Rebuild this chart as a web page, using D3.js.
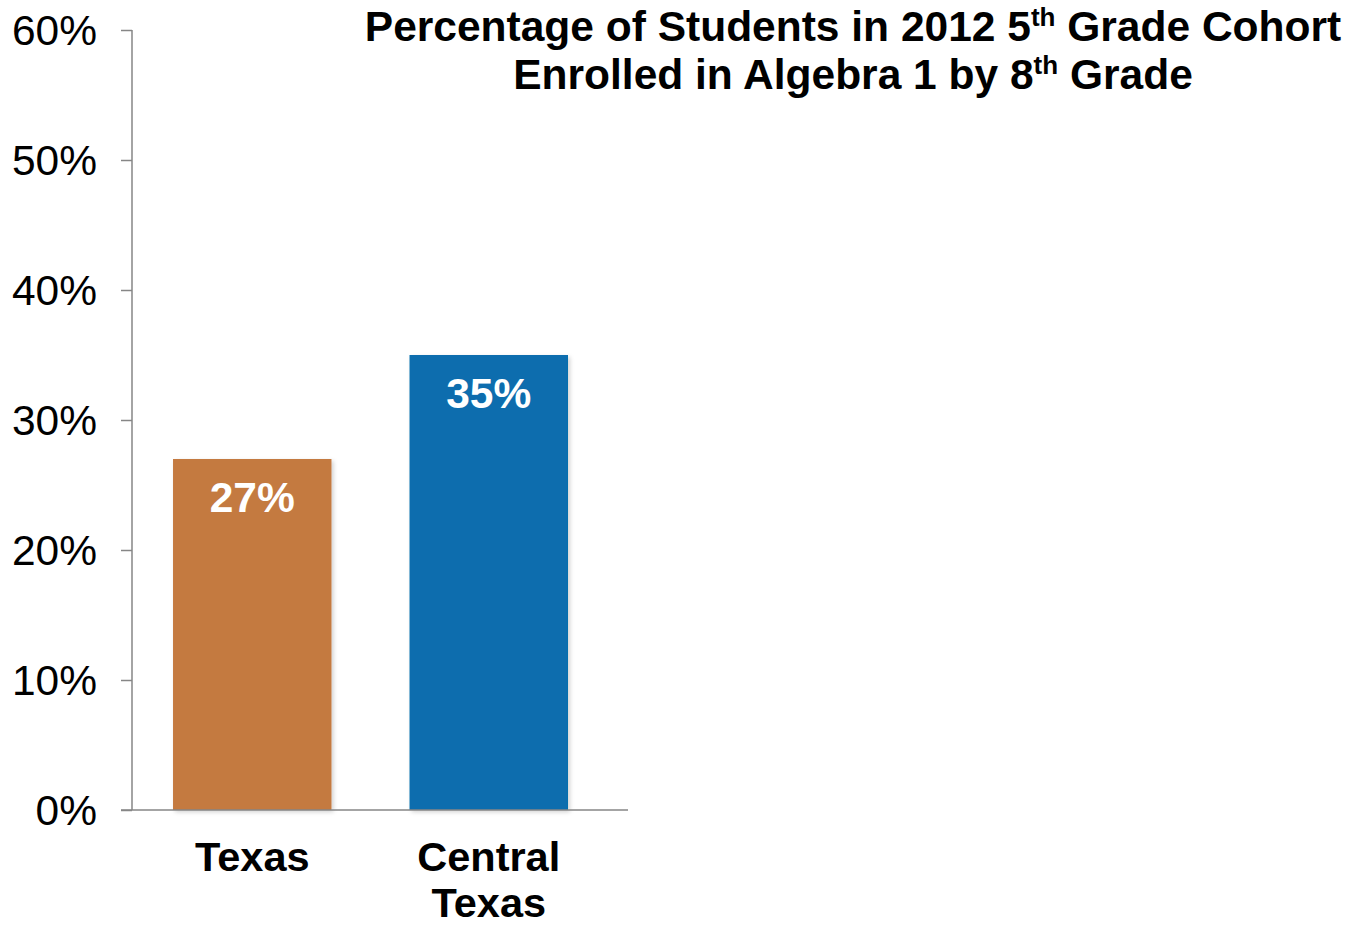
<!DOCTYPE html>
<html>
<head>
<meta charset="utf-8">
<script src="https://cdn.jsdelivr.net/npm/d3@7"></script>
<style>
  html, body { margin: 0; padding: 0; background: #fff; }
  svg { display: block; font-family: "Liberation Sans", Arial, sans-serif; }
</style>
</head>
<body>
<svg id="chart" width="1350" height="925"></svg>
<script>
// Data
const categories = ["Texas", "Central Texas"];
const values = [0.27, 0.35];
const barColors = ["#C47A40", "#076DAE"];
const yTicks = [0, 0.1, 0.2, 0.3, 0.4, 0.5, 0.6];
const titleLines = [
  ["Percentage of Students in 2012 5", "th", " Grade Cohort"],
  ["Enrolled in Algebra 1 by 8", "th", " Grade"]
];

const svg = d3.select("#chart");

const y = d3.scaleLinear().domain([0, 0.6]).range([810, 30]);
const x = d3.scaleBand().domain(categories).range([134, 607]).paddingInner(0.33).paddingOuter(0.165);

// soft drop shadow under the bars
const defs = svg.append("defs");
const f = defs.append("filter").attr("id", "shadow").attr("x", "-10%").attr("y", "-10%").attr("width", "130%").attr("height", "130%");
f.append("feDropShadow").attr("dx", 2).attr("dy", 2).attr("stdDeviation", 2).attr("flood-color", "#000").attr("flood-opacity", 0.18);

// Bars
svg.append("g").selectAll("rect")
  .data(values)
  .join("rect")
  .attr("x", (d, i) => x(categories[i]))
  .attr("width", x.bandwidth())
  .attr("y", d => y(d))
  .attr("height", d => y(0) - y(d))
  .attr("fill", (d, i) => barColors[i])
  .attr("filter", "url(#shadow)");

// Y axis
const yAxis = svg.append("g")
  .attr("transform", "translate(132,0)")
  .call(d3.axisLeft(y).tickValues(yTicks).tickFormat(d3.format(".0%")).tickSize(11).tickPadding(24));
yAxis.select(".domain").attr("stroke", "#868686").attr("stroke-width", 1.5).attr("d", "M0," + y(0.6) + "V" + y(0));
yAxis.selectAll(".tick line").attr("stroke", "#868686").attr("stroke-width", 1.5);
yAxis.selectAll(".tick text").attr("font-size", 42.5).attr("fill", "#000")
  .attr("font-family", "Liberation Sans, Arial, sans-serif").attr("dy", "0.35em");

// X axis baseline
svg.append("line")
  .attr("x1", 121).attr("x2", 628)
  .attr("y1", y(0)).attr("y2", y(0))
  .attr("stroke", "#868686").attr("stroke-width", 1.5);

// Category labels, one text element per line
const catLines = { "Texas": ["Texas"], "Central Texas": ["Central", "Texas"] };
const catRows = categories.flatMap(c => catLines[c].map((line, i) => ({ c, line, i })));
svg.append("g").selectAll("text")
  .data(catRows)
  .join("text")
  .attr("x", d => x(d.c) + x.bandwidth() / 2)
  .attr("y", d => 871 + d.i * 46)
  .attr("text-anchor", "middle")
  .attr("font-size", 41.5)
  .attr("font-weight", "bold")
  .attr("fill", "#000")
  .text(d => d.line);

// Value labels inside bars
svg.append("g").selectAll("text")
  .data(values)
  .join("text")
  .attr("x", (d, i) => x(categories[i]) + x.bandwidth() / 2)
  .attr("y", d => y(d) + 53)
  .attr("text-anchor", "middle")
  .attr("font-size", 42.5)
  .attr("font-weight", "bold")
  .attr("fill", "#fff")
  .text(d => d3.format(".0%")(d));

// Title with superscripts
const title = svg.append("g");
titleLines.forEach((parts, li) => {
  const t = title.append("text")
    .attr("x", 853)
    .attr("y", 41 + li * 48)
    .attr("text-anchor", "middle")
    .attr("font-size", 42.5)
    .attr("font-weight", "bold")
    .attr("fill", "#000");
  t.append("tspan").text(parts[0]);
  t.append("tspan").attr("font-size", 26).attr("dy", -15).text(parts[1]);
  t.append("tspan").attr("dy", 15).text(parts[2]);
});
</script>
</body>
</html>
